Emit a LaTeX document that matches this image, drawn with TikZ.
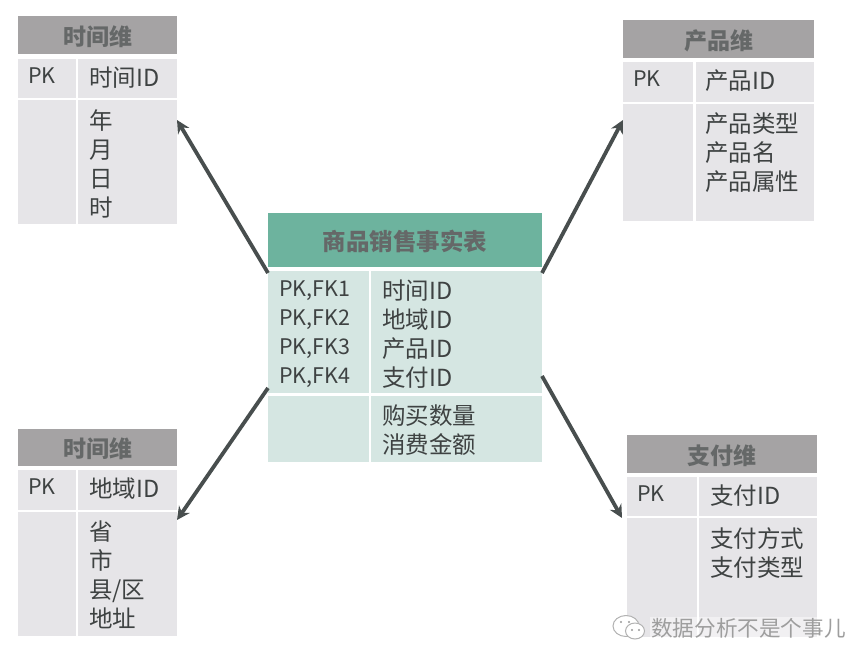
\documentclass[tikz,border=0pt]{standalone}
\usepackage{fontspec}
\setmainfont{Noto Sans CJK SC}
\newcommand{\hdrlabel}[1]{\raisebox{-1.5pt}[\height][\depth]{#1}}
\definecolor{hdgray}{HTML}{A5A3A4}
\definecolor{cellgray}{HTML}{E6E5E8}
\definecolor{hdgreen}{HTML}{6DB39E}
\definecolor{cellgreen}{HTML}{D5E6E2}
\definecolor{ink}{HTML}{3E4242}
\definecolor{arrowc}{HTML}{484E4E}
\usetikzlibrary{arrows.meta}
\tikzset{
  x=1pt,y=-1pt,
  box/.style={anchor=north west,inner sep=0pt,outer sep=0pt,draw=none},
  hdr/.style={box,fill=hdgray,text=ink!80,font=\bfseries\fontsize{23}{26}\selectfont,align=center},
  hdrg/.style={box,fill=hdgreen,text=ink!80,font=\bfseries\fontsize{23.5}{26}\selectfont,align=center},
  cell/.style={box,fill=cellgray},
  cellg/.style={box,fill=cellgreen},
  txt/.style={anchor=north west,inner sep=0pt,text=ink,align=left,font=\fontsize{23.5}{29}\selectfont},
  keytxt/.style={txt,font=\fontsize{21.5}{29}\selectfont},
  link/.style={draw=arrowc,line width=3.8pt,-{Stealth[length=13pt,width=13pt]}},
}
\begin{document}
\begin{tikzpicture}
\useasboundingbox (0,0) rectangle (850,652);
% time
\node[hdr,minimum width=159pt,minimum height=38pt] (th) at (18,16) {\hdrlabel{时间维}};
\node[cell,minimum width=58pt,minimum height=39pt] (ta) at (18,59) {};
\node[cell,minimum width=99pt,minimum height=39pt] (tb) at (78,59) {};
\node[cell,minimum width=58pt,minimum height=124pt] (tc) at (18,100) {};
\node[cell,minimum width=99pt,minimum height=124pt] (td) at (78,100) {};
\node[keytxt] (t1) at (28,68) {PK};
\node[txt] (t2) at (89,67) {时间ID};
\node[txt] (t3) at (89,109) {年\\月\\日\\时};
\coordinate (tin) at (177,120);
% product
\node[hdr,minimum width=191pt,minimum height=38pt] (ph) at (623,20) {\hdrlabel{产品维}};
\node[cell,minimum width=70pt,minimum height=40pt] (pa) at (623,62) {};
\node[cell,minimum width=118pt,minimum height=40pt] (pb) at (696,62) {};
\node[cell,minimum width=70pt,minimum height=117pt] (pc) at (623,104) {};
\node[cell,minimum width=118pt,minimum height=117pt] (pd) at (696,104) {};
\node[keytxt] (p1) at (633,71) {PK};
\node[txt] (p2) at (705,70) {产品ID};
\node[txt] (p3) at (705,113) {产品类型\\产品名\\产品属性};
\coordinate (pin) at (623,120);
% region
\node[hdr,minimum width=159pt,minimum height=37pt] (rh) at (18,429) {\hdrlabel{时间维}};
\node[cell,minimum width=58pt,minimum height=40pt] (ra) at (18,470) {};
\node[cell,minimum width=99pt,minimum height=40pt] (rb) at (78,470) {};
\node[cell,minimum width=58pt,minimum height=124pt] (rc) at (18,512) {};
\node[cell,minimum width=99pt,minimum height=124pt] (rd) at (78,512) {};
\node[keytxt] (r1) at (28,479) {PK};
\node[txt] (r2) at (89,478) {地域ID};
\node[txt] (r3) at (89,521) {省\\市\\县/区\\地址};
\coordinate (rin) at (177,520);
% pay
\node[hdr,minimum width=190pt,minimum height=38pt] (yh) at (627,435) {\hdrlabel{支付维}};
\node[cell,minimum width=70pt,minimum height=39pt] (ya) at (627,477) {};
\node[cell,minimum width=118pt,minimum height=39pt] (yb) at (699,477) {};
\node[cell,minimum width=70pt,minimum height=119pt] (yc) at (627,518) {};
\node[cell,minimum width=118pt,minimum height=119pt] (yd) at (699,518) {};
\node[keytxt] (y1) at (637,486) {PK};
\node[txt] (y2) at (710,485) {支付ID};
\node[txt] (y3) at (710,527) {支付方式\\支付类型};
\coordinate (yin) at (622,518);
% main
\node[hdrg,minimum width=274pt,minimum height=54pt] (mh) at (268,213) {\hdrlabel{商品销售事实表}};
\node[cellg,minimum width=101pt,minimum height=122pt] (ma) at (268,271) {};
\node[cellg,minimum width=171pt,minimum height=122pt] (mb) at (371,271) {};
\node[cellg,minimum width=101pt,minimum height=66pt] (mc) at (268,396) {};
\node[cellg,minimum width=171pt,minimum height=66pt] (md) at (371,396) {};
\node[keytxt] (m1) at (279,281) {PK,FK1\\PK,FK2\\PK,FK3\\PK,FK4};
\node[txt] (m2) at (382,280) {时间ID\\地域ID\\产品ID\\支付ID};
\node[txt] (m3) at (382,405) {购买数量\\消费金额};
\coordinate (mnw) at (268,273);
\coordinate (mne) at (542,273);
\coordinate (msw) at (268,388);
\coordinate (mse) at (542,376);
% arrows
\draw[link] (mnw) -- (tin);
\draw[link] (mne) -- (pin);
\draw[link] (msw) -- (rin);
\draw[link] (mse) -- (yin);
% watermark
\node[anchor=west,inner sep=1pt,fill=white,fill opacity=.45,text opacity=1,text=black!38,font=\fontsize{21.6}{26}\selectfont] (wm) at (650,628) {数据分析不是个事儿};
\draw[draw=black!30,fill=white,line width=1pt] (626,626) ellipse [x radius=13pt,y radius=10.5pt];
\draw[draw=black!30,fill=white,line width=1pt] (635,631) ellipse [x radius=9.5pt,y radius=8pt];
\fill[black!40] (621,622) circle (1.2pt) (629,622) circle (1.2pt) (632,630) circle (1.1pt) (639,630) circle (1.1pt);
\end{tikzpicture}
\end{document}
